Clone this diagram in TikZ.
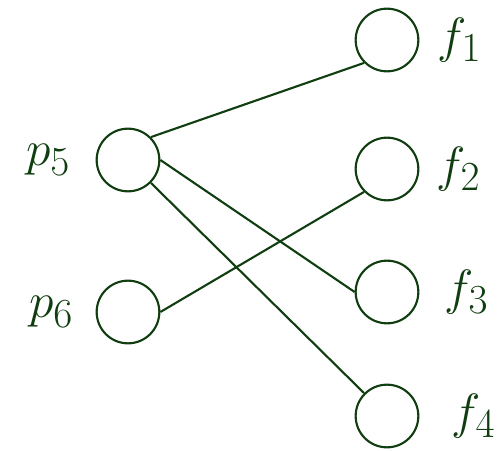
\documentclass[tikz,border=0pt]{standalone}
\usepackage{graphicx}
\usepackage{xcolor}
\usepackage{tikz}
\usetikzlibrary{positioning}

\definecolor{darkgreen}{RGB}{16,62,16}
\newcommand{\biglabel}[1]{\scalebox{1.7}{\Huge$#1$}}

\begin{document}
\begin{tikzpicture}[
  x=0.03cm, y=-0.03cm,
  vertex/.style={circle, draw=darkgreen, line width=1.8pt, minimum size=1.88cm, inner sep=0pt},
  label/.style={text=darkgreen, inner sep=0pt},
  edge/.style={draw=darkgreen, line width=1.8pt},
]
  \useasboundingbox (0,0) rectangle (498,451);

  \node[vertex] (p5) at (128,160) {};
  \node[vertex] (p6) at (128,312) {};
  \node[vertex] (f1) at (387,40) {};
  \node[vertex] (f2) at (387,169) {};
  \node[vertex] (f3) at (387,292) {};
  \node[vertex] (f4) at (387,416) {};

  \node[label, left=0.75cm of p5] (lp5) {\biglabel{p_5}};
  \node[label, left=0.66cm of p6] (lp6) {\biglabel{p_6}};
  \node[label, right=0.54cm of f1] (lf1) {\biglabel{f_1}};
  \node[label, right=0.51cm of f2] (lf2) {\biglabel{f_2}};
  \node[label, right=0.75cm of f3] (lf3) {\biglabel{f_3}};
  \node[label, right=0.96cm of f4] (lf4) {\biglabel{f_4}};

  \draw[edge] (p5.north east) -- (f1.south west);
  \draw[edge] (p5.east) -- (f3.west);
  \draw[edge] (p5.south east) -- (f4.north west);
  \draw[edge] (p6.east) -- (f2.south west);
\end{tikzpicture}
\end{document}
